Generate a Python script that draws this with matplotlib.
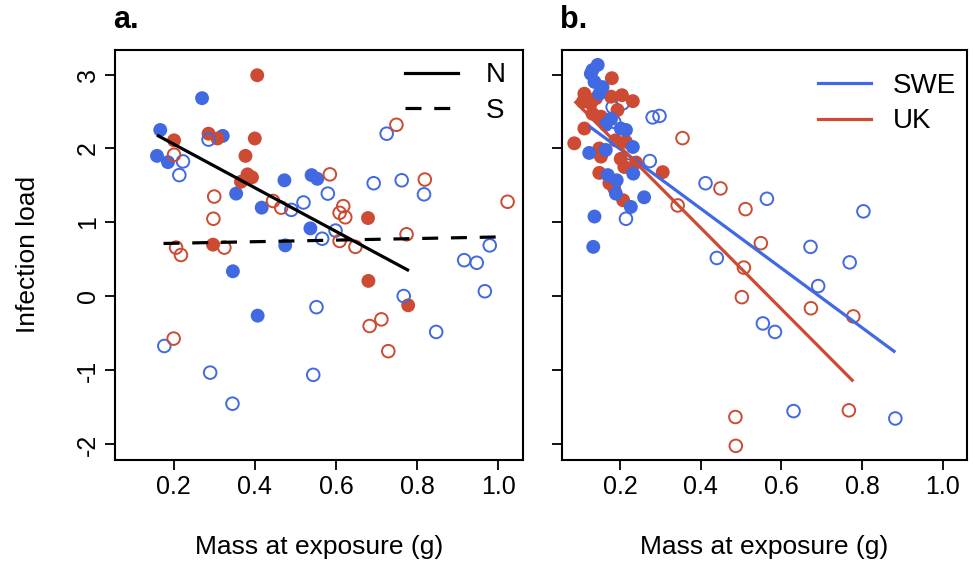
import matplotlib
matplotlib.use("Agg")
import matplotlib.pyplot as plt
from matplotlib.lines import Line2D

plt.rcParams["font.family"] = ["Liberation Sans", "DejaVu Sans"]

BLUE = "#4169E1"
RED = "#CD4A33"

# ---- panel a: mass vs infection load, filled = N, open = S ----
a_swe_n_x = [0.167, 0.270, 0.321, 0.159, 0.186, 0.354, 0.473, 0.417, 0.540, 0.554, 0.537, 0.475, 0.346, 0.407]
a_swe_n_y = [2.25, 2.68, 2.17, 1.90, 1.815, 1.39, 1.57, 1.20, 1.64, 1.59, 0.92, 0.69, 0.34, -0.26]
a_uk_n_x = [0.406, 0.201, 0.286, 0.308, 0.400, 0.377, 0.382, 0.393, 0.366, 0.297, 0.679, 0.680, 0.778]
a_uk_n_y = [2.99, 2.11, 2.20, 2.135, 2.135, 1.90, 1.65, 1.61, 1.55, 0.70, 1.06, 0.21, -0.12]
a_swe_s_x = [0.286, 0.223, 0.214, 0.490, 0.520, 0.580, 0.566, 0.599, 0.725, 0.693, 0.762, 0.817,
             0.979, 0.916, 0.947, 0.967, 0.767, 0.552, 0.847, 0.177, 0.290, 0.345, 0.544]
a_swe_s_y = [2.12, 1.825, 1.64, 1.17, 1.27, 1.39, 0.78, 0.89, 2.20, 1.53, 1.57, 1.38,
             0.69, 0.49, 0.455, 0.07, 0.005, -0.145, -0.48, -0.67, -1.03, -1.45, -1.06]
a_uk_s_x = [0.201, 0.300, 0.298, 0.445, 0.465, 0.585, 0.749, 0.819, 1.023, 0.618, 0.609, 0.623,
            0.609, 0.648, 0.774, 0.206, 0.218, 0.325, 0.200, 0.712, 0.683, 0.729]
a_uk_s_y = [1.915, 1.35, 1.05, 1.29, 1.20, 1.65, 2.32, 1.58, 1.28, 1.22, 1.13, 1.07,
            0.75, 0.67, 0.84, 0.66, 0.56, 0.66, -0.57, -0.31, -0.40, -0.74]

# fitted lines: (x from, x to, intercept, slope)
a_fit_n = (0.159, 0.780, 2.649, -2.95)
a_fit_s = (0.175, 1.023, 0.697, 0.107)

# ---- panel b ----
b_swe_f_x = [0.145, 0.132, 0.128, 0.137, 0.157, 0.149, 0.178, 0.165, 0.202, 0.215, 0.232,
             0.124, 0.165, 0.233, 0.170, 0.192, 0.190, 0.227, 0.260, 0.137, 0.134]
b_swe_f_y = [3.13, 3.06, 3.01, 2.90, 2.83, 2.74, 2.40, 2.32, 2.27, 2.25, 2.02,
             1.94, 1.98, 1.66, 1.64, 1.57, 1.39, 1.21, 1.34, 1.08, 0.67]
b_uk_f_x = [0.180, 0.112, 0.108, 0.128, 0.141, 0.178, 0.205, 0.232, 0.194, 0.132, 0.153, 0.112,
            0.087, 0.189, 0.215, 0.149, 0.153, 0.202, 0.240, 0.306, 0.211, 0.149, 0.174, 0.186, 0.208]
b_uk_f_y = [2.95, 2.74, 2.63, 2.61, 2.68, 2.70, 2.72, 2.64, 2.52, 2.47, 2.43, 2.27,
            2.07, 2.11, 2.09, 2.00, 1.89, 1.86, 1.81, 1.68, 1.75, 1.67, 1.53, 1.46, 1.30]
b_swe_o_x = [0.207, 0.182, 0.186, 0.281, 0.298, 0.219, 0.274, 0.215, 0.412, 0.564, 0.803, 0.672,
             0.769, 0.440, 0.691, 0.554, 0.584, 0.630, 0.882]
b_swe_o_y = [2.61, 2.56, 2.36, 2.42, 2.44, 1.77, 1.83, 1.05, 1.53, 1.32, 1.15, 0.67,
             0.46, 0.52, 0.14, -0.365, -0.48, -1.55, -1.65]
b_uk_o_x = [0.343, 0.355, 0.449, 0.511, 0.549, 0.507, 0.502, 0.673, 0.778, 0.767, 0.486, 0.487]
b_uk_o_y = [1.23, 2.14, 1.46, 1.18, 0.72, 0.39, -0.01, -0.16, -0.27, -1.54, -1.63, -2.02]

b_fit_swe = (0.124, 0.882, 2.80, -4.03)
b_fit_uk = (0.088, 0.778, 3.123, -5.49)

xticks = [0.2, 0.4, 0.6, 0.8, 1.0]
xticklabels = ["0.2", "0.4", "0.6", "0.8", "1.0"]
yticks = [-2, -1, 0, 1, 2, 3]
yticklabels = ["-2", "-1", "0", "1", "2", "3"]

fig = plt.figure(figsize=(9.75, 5.65), dpi=100)
ax1 = fig.add_axes([0.118, 0.186, 0.418, 0.726])
ax2 = fig.add_axes([0.576, 0.186, 0.416, 0.726])

ms = 100


def pts(ax, x, y, color, filled):
    if filled:
        ax.scatter(x, y, s=ms, color=color, edgecolors="none", zorder=2)
    else:
        ax.scatter(x, y, s=ms * 0.82, facecolors="none", edgecolors=color, linewidths=1.4, zorder=2)


def fit(ax, f, **kw):
    x0, x1, b0, b1 = f
    ax.plot([x0, x1], [b0 + b1 * x0, b0 + b1 * x1], zorder=3, solid_capstyle="butt", **kw)


pts(ax1, a_swe_n_x, a_swe_n_y, BLUE, True)
pts(ax1, a_uk_n_x, a_uk_n_y, RED, True)
pts(ax1, a_swe_s_x, a_swe_s_y, BLUE, False)
pts(ax1, a_uk_s_x, a_uk_s_y, RED, False)
fit(ax1, a_fit_n, color="black", lw=2.3)
fit(ax1, a_fit_s, color="black", lw=2.3, dashes=(5, 4))

pts(ax2, b_swe_o_x, b_swe_o_y, BLUE, False)
pts(ax2, b_uk_o_x, b_uk_o_y, RED, False)
pts(ax2, b_uk_f_x, b_uk_f_y, RED, True)
pts(ax2, b_swe_f_x, b_swe_f_y, BLUE, True)
fit(ax2, b_fit_swe, color=BLUE, lw=2.3)
fit(ax2, b_fit_uk, color=RED, lw=2.3)

for ax in (ax1, ax2):
    ax.set_xlim(0.0556, 1.06)
    ax.set_ylim(-2.21, 3.335)
    ax.set_xticks(xticks)
    ax.set_xticklabels(xticklabels)
    ax.set_yticks(yticks)
    ax.tick_params(axis="both", direction="out", length=7, width=1.3, labelsize=18, pad=4)
    for sp in ax.spines.values():
        sp.set_linewidth(1.5)
    ax.set_xlabel("Mass at exposure (g)", fontsize=19, labelpad=26)

ax1.set_yticklabels(yticklabels, rotation=90, va="center")
ax2.set_yticklabels([])
ax1.set_ylabel("Infection load", fontsize=19, labelpad=26)

ax1.text(-0.005, 1.035, "a.", transform=ax1.transAxes, fontsize=22, fontweight="bold", va="bottom")
ax2.text(-0.005, 1.035, "b.", transform=ax2.transAxes, fontsize=22, fontweight="bold", va="bottom")

h1 = [Line2D([], [], color="black", lw=2.3),
      Line2D([], [], color="black", lw=2.3, dashes=(5, 4))]
ax1.legend(h1, ["N", "S"], loc="upper right", frameon=False, fontsize=20,
           handlelength=1.9, handletextpad=1.0, labelspacing=0.35,
           bbox_to_anchor=(1.02, 1.03))
h2 = [Line2D([], [], color=BLUE, lw=2.3), Line2D([], [], color=RED, lw=2.3)]
ax2.legend(h2, ["SWE", "UK"], loc="upper right", frameon=False, fontsize=20,
           handlelength=1.9, handletextpad=0.8, labelspacing=0.35,
           bbox_to_anchor=(1.035, 1.005))

plt.savefig("out.png", dpi=100)
